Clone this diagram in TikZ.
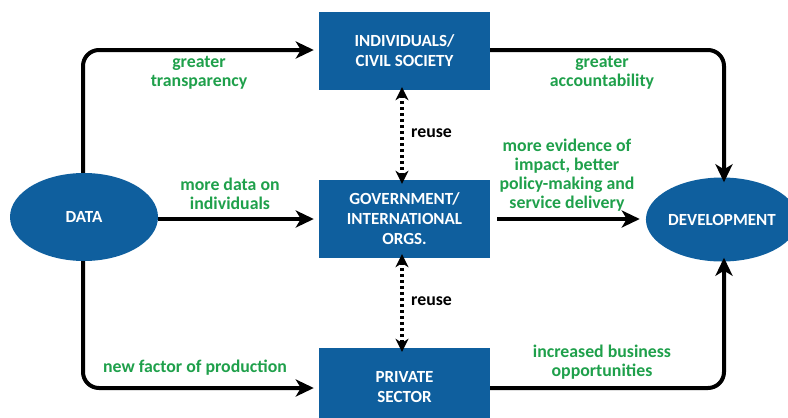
\documentclass[tikz,border=0pt]{standalone}
\usepackage{fontspec}
\setmainfont{Carlito}
\usetikzlibrary{arrows.meta,shapes.geometric}
\definecolor{boxblue}{HTML}{0F5F9E}
\definecolor{lblgreen}{HTML}{1FA04B}
\begin{document}
\begin{tikzpicture}[x=1pt,y=-1pt,
  box/.style={fill=boxblue,text=white,minimum width=171pt,minimum height=78pt,inner sep=0pt,align=center,font=\bfseries\fontsize{17}{20}\selectfont},
  blob/.style={ellipse,fill=boxblue,text=white,inner sep=0pt,font=\bfseries\fontsize{17}{20}\selectfont},
  flow/.style={line width=4pt,rounded corners=16pt,-{Stealth[length=18pt,width=17pt,inset=5pt]}},
  reusearrow/.style={line width=3.2pt,dash pattern=on 3pt off 3pt,{Stealth[length=13pt,width=13pt,inset=4pt]}-{Stealth[length=13pt,width=13pt,inset=4pt]}},
  lbl/.style={text=lblgreen,align=center,font=\bfseries\fontsize{17.8}{19}\selectfont,inner sep=0pt},
  rlbl/.style={text=black,font=\bfseries\fontsize{17.8}{19}\selectfont,inner sep=0pt,anchor=west}]
\useasboundingbox (0,0) rectangle (788,418);
\begin{scope}
\clip (0,0) rectangle (788,418);
\node[box] (ind) at (404.5,51) {INDIVIDUALS/\\CIVIL SOCIETY};
\node[box] (gov) at (404.5,219) {GOVERNMENT/\\INTERNATIONAL\\ORGS.};
\node[box] (priv) at (404.5,387) {PRIVATE\\SECTOR};
\node[blob,minimum width=148pt,minimum height=88pt] (data) at (84,217) {DATA};
\node[blob,minimum width=144pt,minimum height=84pt] (dev) at (722,219.5) {DEVELOPMENT};
\end{scope}
\coordinate (c1) at (83,50);
\coordinate (c2) at (724,50);
\coordinate (c3) at (83,388);
\coordinate (c4) at (724,388);
\draw[flow] (data.north -| c1) -- (c1) -- ([xshift=-5pt]ind.west |- c1);
\draw[flow] (ind.east |- c2) -- (c2) -- ([yshift=-5pt]dev.north -| c2);
\draw[flow] (data.east |- 0,219) -- ([xshift=-5pt]gov.west |- 0,219);
\draw[flow] ([xshift=7pt]gov.east |- 0,219) -- ([xshift=-6pt]dev.west |- 0,219);
\draw[flow] (data.south -| c3) -- (c3) -- ([xshift=-5pt]priv.west |- c3);
\draw[flow] (priv.east |- c4) -- (c4) -- ([yshift=4pt]dev.south -| c4);
\draw[reusearrow] ([yshift=3pt]ind.south -| 402,0) -- ([yshift=-4pt]gov.north -| 402,0);
\draw[reusearrow] ([yshift=4pt]gov.south -| 402,0) -- ([yshift=-4pt]priv.north -| 402,0);
\node[rlbl] (r1) at (411,133) {reuse};
\node[rlbl] (r2) at (411,301) {reuse};
\node[lbl] (l1) at (199,73) {greater\\transparency};
\node[lbl] (l2) at (230,194) {more data on\\individuals};
\node[lbl] (l3) at (195,368) {new factor of production};
\node[lbl] (l4) at (602,72.5) {greater\\accountability};
\node[lbl] (l5) at (567,175.5) {more evidence of\\impact, better\\policy-making and\\service delivery};
\node[lbl] (l6) at (602,362) {increased business\\opportunities};
\end{tikzpicture}
\end{document}
